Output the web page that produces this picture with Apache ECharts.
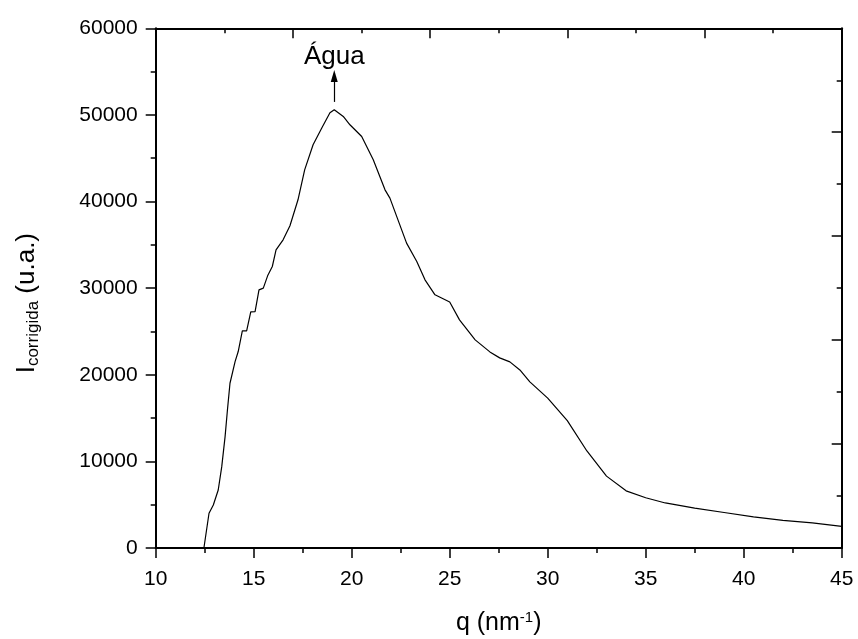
<!DOCTYPE html>
<html>
<head>
<meta charset="utf-8">
<script src="https://cdn.jsdelivr.net/npm/echarts@6/dist/echarts.min.js"></script>
<style>html,body{margin:0;padding:0;background:#fff}#c{width:858px;height:639px}</style>
</head>
<body>
<div id="c"></div>
<script>
const qValues = [12.46, 12.72, 12.94, 13.19, 13.37, 13.54, 13.66, 13.79, 14.05, 14.21, 14.42, 14.64, 14.85, 15.07, 15.27, 15.49, 15.71, 15.95, 16.14, 16.5, 16.85, 17.26, 17.6, 18.03, 18.48, 18.89, 19.11, 19.57, 19.91, 20.51, 21.1, 21.7, 21.95, 22.8, 23.32, 23.74, 24.25, 25.0, 25.5, 26.3, 27.05, 27.55, 28.07, 28.58, 29.09, 30.0, 31.0, 32.0, 33.0, 34.0, 35.0, 36.0, 37.5, 39.0, 40.5, 42.0, 43.5, 45.0];
const intensity = [0, 4010, 4970, 6700, 9390, 12860, 15940, 19020, 21520, 22680, 25070, 25070, 27260, 27300, 29800, 30000, 31420, 32500, 34420, 35580, 37200, 40200, 43660, 46550, 48520, 50250, 50600, 49820, 48860, 47510, 44820, 41350, 40390, 35200, 33070, 30960, 29230, 28400, 26340, 24030, 22640, 21950, 21490, 20560, 19180, 17300, 14700, 11200, 8300, 6600, 5800, 5200, 4600, 4100, 3600, 3200, 2900, 2500];
const xTicks = [10, 45, 5];
const yTicks = [0, 60000, 10000];
const peakLabel = 'Água';
const peakQ = 19.11;
const arrowFrom = 51500, arrowTo = 54500, labelAt = 56700;

const font = 'Liberation Sans, Arial, sans-serif';
const chart = echarts.init(document.getElementById('c'), null, {renderer: 'canvas'});
const axisLine = {show: true, onZero: false, lineStyle: {color: '#000', width: 2}};
chart.setOption({
  animation: false,
  backgroundColor: '#fff',
  grid: {left: 155.7, right: 16.3, top: 28.3, bottom: 91, containLabel: false, outerBoundsMode: 'none'},
  xAxis: [{
    type: 'value', min: xTicks[0], max: xTicks[1], interval: xTicks[2],
    position: 'bottom',
    axisLine: axisLine,
    axisTick: {show: true, inside: false, length: 10, lineStyle: {color: '#000', width: 1.5}},
    minorTick: {show: true, splitNumber: 2, length: 5, lineStyle: {color: '#000', width: 1.5}},
    splitLine: {show: false},
    axisLabel: {color: '#000', fontSize: 21, fontFamily: font, margin: 21, formatter: v => String(v)},
    name: 'q (nm{sup|-1})',
    nameLocation: 'middle', nameGap: 62,
    nameTextStyle: {color: '#000', fontSize: 25, fontFamily: font,
      rich: {sup: {fontSize: 15, fontFamily: font, color: '#000', verticalAlign: 'top', padding: [0, 0, 12, 0]}}}
  }, {
    type: 'value', min: 0, max: 10, interval: 2, position: 'top',
    axisLine: axisLine,
    axisTick: {show: true, inside: true, length: 10, lineStyle: {color: '#000', width: 1.5}},
    minorTick: {show: true, splitNumber: 2, length: 5, lineStyle: {color: '#000', width: 1.5}},
    splitLine: {show: false},
    axisLabel: {show: false}
  }],
  yAxis: [{
    type: 'value', min: yTicks[0], max: yTicks[1], interval: yTicks[2],
    position: 'left',
    axisLine: axisLine,
    axisTick: {show: true, inside: false, length: 10, lineStyle: {color: '#000', width: 1.5}},
    minorTick: {show: true, splitNumber: 2, length: 5, lineStyle: {color: '#000', width: 1.5}},
    splitLine: {show: false},
    axisLabel: {color: '#000', fontSize: 21, fontFamily: font, margin: 18, formatter: v => String(v)},
    name: 'I{sub|corrigida} (u.a.)',
    nameLocation: 'middle', nameGap: 114, nameRotate: 90,
    nameTextStyle: {color: '#000', fontSize: 26, fontFamily: font, padding: [0, 30, 0, 0],
      rich: {sub: {fontSize: 17, fontFamily: font, color: '#000', verticalAlign: 'bottom', padding: [12, 0, 0, 0]}}}
  }, {
    type: 'value', min: 0, max: 10, interval: 2, position: 'right',
    axisLine: axisLine,
    axisTick: {show: true, inside: true, length: 10, lineStyle: {color: '#000', width: 1.5}},
    minorTick: {show: true, splitNumber: 2, length: 5, lineStyle: {color: '#000', width: 1.5}},
    splitLine: {show: false},
    axisLabel: {show: false}
  }],
  series: [{
    type: 'line',
    xAxisIndex: 0, yAxisIndex: 0,
    data: qValues.map((q, i) => [q, intensity[i]]),
    showSymbol: false, symbol: 'none',
    smooth: false,
    lineStyle: {color: '#000', width: 1.2},
    markLine: {
      silent: true, symbol: ['none', 'triangle'], symbolSize: [7, 12],
      lineStyle: {color: '#000', width: 1.2, type: 'solid'},
      label: {show: false},
      data: [[{coord: [peakQ, arrowFrom]}, {coord: [peakQ, arrowTo]}]]
    },
    markPoint: {
      silent: true, symbol: 'circle', symbolSize: 0,
      label: {show: true, formatter: peakLabel, color: '#000', fontSize: 26, fontFamily: font, position: 'inside'},
      data: [{coord: [peakQ, labelAt]}]
    }
  }]
});
</script>
</body>
</html>
